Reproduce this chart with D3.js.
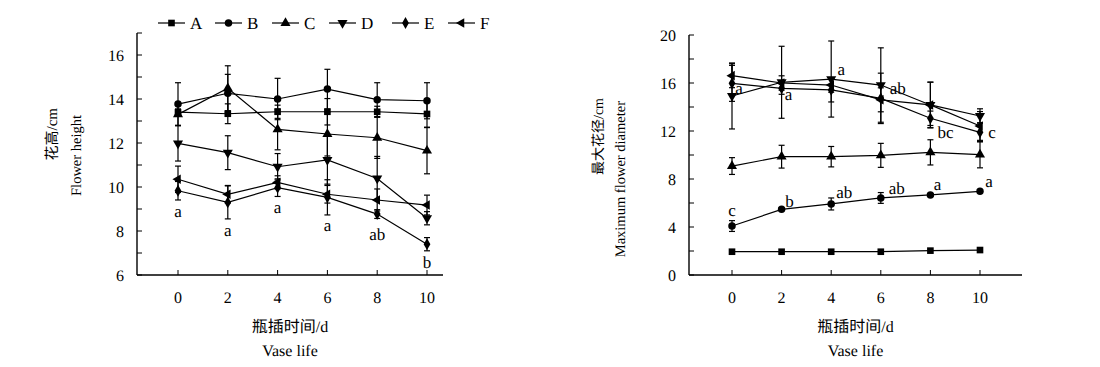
<!DOCTYPE html>
<html><head><meta charset="utf-8">
<script src="https://cdn.jsdelivr.net/npm/d3@7"></script>
<style>body{margin:0;background:#fff;-webkit-font-smoothing:antialiased}svg{display:block}text{font-family:"Liberation Serif","Noto Sans CJK SC",serif;fill:#000;text-rendering:geometricPrecision}</style>
</head><body><svg id="c" width="1100" height="367"></svg>
<script>
const days = [0, 2, 4, 6, 8, 10];
const seriesNames = ["A", "B", "C", "D", "E", "F"];
// Flower height (cm)
const heightA = [13.40, 13.33, 13.42, 13.42, 13.42, 13.32];
const heightB = [13.77, 14.26, 14.00, 14.45, 13.97, 13.92];
const heightC = [13.30, 14.49, 12.62, 12.41, 12.24, 11.65];
const heightD = [11.98, 11.56, 10.92, 11.23, 10.39, 8.58];
const heightE = [9.83, 9.30, 9.97, 9.53, 8.77, 7.40];
const heightF = [10.35, 9.67, 10.21, 9.67, 9.41, 9.18];
const heightErrA = [0.15, 0.45, 0.30, 0.60, 0.25, 0.60];
const heightErrB = [0.97, 0.86, 0.94, 0.90, 0.77, 0.82];
const heightErrC = [0.50, 1.02, 0.93, 1.00, 0.94, 1.05];
const heightErrD = [0.80, 0.77, 0.60, 1.10, 1.00, 0.30];
const heightErrE = [0.42, 0.75, 0.40, 0.80, 0.20, 0.30];
const heightErrF = [0.60, 0.40, 0.30, 0.40, 0.50, 0.45];
const heightLetters = ["a", "a", "a", "a", "ab", "b"];
// Maximum flower diameter (cm)
const diamA = [1.94, 1.94, 1.94, 1.94, 2.03, 2.08];
const diamB = [4.08, 5.47, 5.92, 6.42, 6.67, 6.97];
const diamC = [9.08, 9.86, 9.86, 9.97, 10.22, 10.03];
const diamD = [14.92, 16.06, 16.33, 15.83, 14.17, 13.25];
const diamE = [15.97, 15.56, 15.42, 14.72, 13.06, 11.89];
const diamF = [16.61, 16.00, 15.83, 14.60, 14.17, 12.42];
const diamErrA = [0.05, 0.05, 0.05, 0.05, 0.05, 0.05];
const diamErrB = [0.45, 0.10, 0.50, 0.45, 0.10, 0.10];
const diamErrC = [0.70, 0.95, 0.85, 1.00, 1.05, 1.10];
const diamErrD = [2.75, 3.00, 3.17, 3.10, 1.90, 0.60];
const diamErrE = [1.50, 0.50, 1.00, 2.10, 0.60, 0.80];
const diamErrF = [1.00, 0.60, 0.60, 1.00, 1.90, 1.20];
const diamLettersB = ["c", "b", "ab", "ab", "a", "a"];
const diamLettersE = ["a", "a", "a", "ab", "bc", "c"];
const heightTicks = [6, 8, 10, 12, 14, 16];
const diamTicks = [0, 4, 8, 12, 16, 20];

const svg = d3.select("#c");
const sym = {
  A: {t: d3.symbolSquare, s: 44, r: 0},
  B: {t: d3.symbolCircle, s: 44, r: 0},
  C: {t: d3.symbolTriangle, s: 44, r: 0},
  D: {t: d3.symbolTriangle, s: 44, r: 180},
  E: {t: d3.symbolDiamond, s: 40, r: 0},
  F: {t: d3.symbolTriangle, s: 40, r: -90}
};
function marker(g, name, x, y) {
  const m = sym[name];
  g.append("path").attr("d", d3.symbol().type(m.t).size(m.s)())
    .attr("transform", `translate(${x},${y}) rotate(${m.r})`).attr("fill", "#000");
}

function panel(cfg) {
  const x = d3.scaleLinear().domain([0, 10]).range(cfg.xr);
  const y = d3.scaleLinear().domain(cfg.yd).range([275, cfg.ytop]);
  const g = svg.append("g");
  g.append("line").attr("x1", cfg.x0).attr("x2", cfg.x0).attr("y1", y(cfg.yd[1])).attr("y2", 275).attr("stroke", "#000").attr("stroke-width", 1.4);
  g.append("line").attr("x1", cfg.x0).attr("x2", cfg.x1).attr("y1", 275).attr("y2", 275).attr("stroke", "#000").attr("stroke-width", 1.4);
  d3.range(cfg.yd[0], cfg.yd[1] + 0.001, cfg.minor).forEach(v => {
    g.append("line").attr("x1", cfg.x0).attr("x2", cfg.x0 + 5).attr("y1", y(v)).attr("y2", y(v)).attr("stroke", "#000");
  });
  cfg.yticks.forEach(v => {
    g.append("text").attr("x", cfg.x0 - 13).attr("y", y(v)).attr("dy", "0.35em").attr("text-anchor", "end").attr("font-size", 16).text(v);
  });
  days.forEach(d => {
    g.append("line").attr("x1", x(d)).attr("x2", x(d)).attr("y1", 275).attr("y2", 270).attr("stroke", "#000");
    g.append("text").attr("x", x(d)).attr("y", 297).attr("dy", "0.35em").attr("text-anchor", "middle").attr("font-size", 16).text(d);
  });
  const cx = (cfg.x0 + cfg.x1) / 2;
  g.append("text").attr("x", cx).attr("y", 326).attr("dy", "0.35em").attr("text-anchor", "middle").attr("font-size", 16).text("瓶插时间/d");
  g.append("text").attr("x", cx).attr("y", 350).attr("dy", "0.35em").attr("text-anchor", "middle").attr("font-size", 16).text("Vase life");
  g.append("text").attr("transform", `translate(${cfg.t1x},${cfg.t1y}) rotate(-90)`).attr("text-anchor", "end").attr("dy", "0.35em").attr("font-size", cfg.t1s).text(cfg.title1);
  g.append("text").attr("transform", `translate(${cfg.t2x},${cfg.t2y}) rotate(-90)`).attr("text-anchor", "end").attr("dy", "0.35em").attr("font-size", 14.5).text(cfg.title2);

  const line = d3.line().x((v, i) => x(days[i])).y(v => y(v));
  cfg.series.forEach(s => {
    s.vals.forEach((v, i) => {
      const e = s.err[i]; if (e <= 0.06) return;
      const px = x(days[i]);
      g.append("line").attr("x1", px).attr("x2", px).attr("y1", y(v - e)).attr("y2", y(v + e)).attr("stroke", "#000").attr("stroke-width", 1.2);
      [v - e, v + e].forEach(w => g.append("line").attr("x1", px - 3).attr("x2", px + 3).attr("y1", y(w)).attr("y2", y(w)).attr("stroke", "#000").attr("stroke-width", 1.2));
    });
    g.append("path").attr("d", line(s.vals)).attr("fill", "none").attr("stroke", "#000").attr("stroke-width", 1.2);
  });
  cfg.series.forEach(s => s.vals.forEach((v, i) => marker(g, s.name, x(days[i]), y(v))));
  cfg.letters.forEach(L => {
    L.labels.forEach((t, i) => {
      g.append("text").attr("x", x(days[i]) + L.dx[i]).attr("y", y(L.vals[i]) + L.dy[i]).attr("dy", "0.32em")
        .attr("text-anchor", "middle").attr("font-size", 17).text(t);
    });
  });
}

panel({
  xr: [178, 427], x0: 137, x1: 443, yd: [6, 17], ytop: 33, minor: 1, yticks: heightTicks,
  title1: "花高/cm", t1s: 15, t1x: 52, t1y: 108, title2: "Flower height", t2x: 76, t2y: 115,
  series: [
    {name: "A", vals: heightA, err: heightErrA}, {name: "B", vals: heightB, err: heightErrB},
    {name: "C", vals: heightC, err: heightErrC}, {name: "D", vals: heightD, err: heightErrD},
    {name: "E", vals: heightE, err: heightErrE}, {name: "F", vals: heightF, err: heightErrF}
  ],
  letters: [{labels: heightLetters, vals: heightE, dx: [0, 0, 0, 0, 0, 0], dy: [21, 28, 20, 28, 20, 18]}]
});
panel({
  xr: [732, 980], x0: 689, x1: 1022, yd: [0, 20], ytop: 35, minor: 2, yticks: diamTicks,
  title1: "最大花径/cm", t1s: 14, t1x: 598, t1y: 98, title2: "Maximum flower diameter", t2x: 620, t2y: 101,
  series: [
    {name: "A", vals: diamA, err: diamErrA}, {name: "B", vals: diamB, err: diamErrB},
    {name: "C", vals: diamC, err: diamErrC}, {name: "D", vals: diamD, err: diamErrD},
    {name: "E", vals: diamE, err: diamErrE}, {name: "F", vals: diamF, err: diamErrF}
  ],
  letters: [
    {labels: diamLettersB, vals: diamB, dx: [0, 8, 13, 16, 7, 9], dy: [-15, -8, -11, -9, -10, -10]},
    {labels: diamLettersE, vals: diamE, dx: [7, 7, 10, 17, 15, 12], dy: [5, 6, -20, -10, 14, 0]}
  ]
});

const legX = [158, 215, 272, 329, 392, 448];
const lg = svg.append("g");
seriesNames.forEach((n, i) => {
  const x0 = legX[i];
  lg.append("line").attr("x1", x0).attr("x2", x0 + 27).attr("y1", 23).attr("y2", 23).attr("stroke", "#000").attr("stroke-width", 1.2);
  marker(lg, n, x0 + 13.5, 23);
  lg.append("text").attr("x", x0 + 32).attr("y", 23).attr("dy", "0.35em").attr("font-size", 17).text(n);
});
</script></body></html>
